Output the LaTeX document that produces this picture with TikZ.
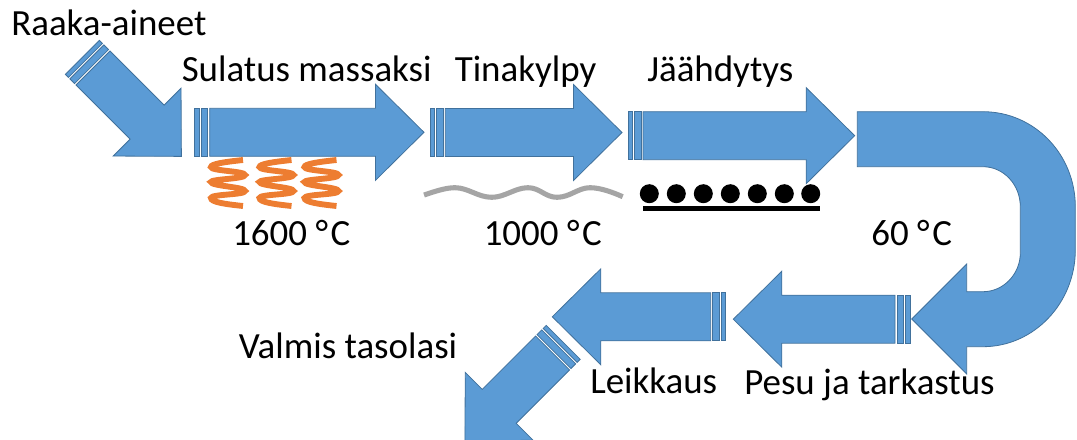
\documentclass[tikz,border=0pt]{standalone}
\usepackage{fontspec}
\setmainfont{Carlito}
\definecolor{FlowBlue}{RGB}{91, 155, 213}
\definecolor{FlowEdge}{RGB}{65, 113, 156}
\definecolor{CoilOrange}{RGB}{237, 125, 49}
\definecolor{BathGray}{RGB}{165, 165, 165}
\tikzset{
    flow/.style={
        fill=FlowBlue,
        draw=FlowEdge,
        line width=0.6pt,
        line join=miter
    },
    % Striped arrow, tail at the origin, pointing along x; the value is its length
    flowarrow/.pic={
        \draw[flow] (-15,-24) rectangle (-10.7,24);
        \draw[flow] (-8.7,-24) rectangle (-2,24);
        \draw[flow] (0,-24) -- ({#1-48.5},-24) -- ({#1-48.5},-48) -- (#1,0)
            -- ({#1-48.5},48) -- ({#1-48.5},24) -- (0,24) -- cycle;
    },
    coil/.pic={
        \draw[draw=CoilOrange, line width=4.4pt]
            (41,10) .. controls (22,12) and (9,14) .. (9,17)
            .. controls (9,21) and (43,21) .. (43,25)
            .. controls (43,29) and (9,29) .. (9,32)
            .. controls (9,36) and (43,37) .. (43,41)
            .. controls (43,45) and (9,44) .. (9,48)
            .. controls (9,52) and (22,54) .. (41,56);
    },
    label_text/.style={
        font=\fontsize{27.7pt}{32pt}\selectfont,
        text=black,
        inner sep=0pt,
        anchor=base west
    }
}
\newcommand{\degC}{°\kern2pt C}
\begin{document}
\begin{tikzpicture}[x=0.75pt, y=-0.75pt]
    \useasboundingbox (0,0) rectangle (1077,439);
    \clip (0,0) rectangle (1077,439);

    % --- Arrows ---
    \pic[rotate=-45] at (93,68) {flowarrow=125};
    \pic at (209.7,132.3) {flowarrow=214.3};
    \pic at (445.3,132.5) {flowarrow=176.7};
    \pic at (643,135.7) {flowarrow=211.7};

    % U-turn
    \draw[flow] (857.3,111.7) -- (983,111.7)
        .. controls (1034,111.7) and (1075.3,154) .. (1075.3,206.7) -- (1075.3,250)
        .. controls (1075.3,303) and (1034,346.7) .. (983,346.7)
        -- (966.7,346.7) -- (966.7,374) -- (911.7,319) -- (966.7,264) -- (966.7,291.7)
        -- (983,291.7)
        .. controls (1003.5,291.7) and (1020.3,274) .. (1020.3,253) -- (1020.3,206.7)
        .. controls (1020.3,184.5) and (1003.5,166.7) .. (983,166.7)
        -- (857.3,166.7) -- cycle;

    \pic[rotate=180] at (895,319.2) {flowarrow=161.7};
    \pic[rotate=180] at (710.7,316.8) {flowarrow=158.4};
    \pic[rotate=-135] at (552.6,353) {flowarrow=124};

    % --- Heating coils ---
    \pic at (202,150) {coil};
    \pic at (250.5,150) {coil};
    \pic at (295.5,150) {coil};

    % --- Tin bath ---
    \draw[draw=BathGray, line width=3.8pt]
        (424,195) .. controls (436,191) and (446,187.7) .. (455,187.7)
        .. controls (468,187.7) and (478,197.3) .. (491.7,197.3)
        .. controls (505,197.3) and (515,187.7) .. (528,187.7)
        .. controls (540,187.7) and (545,197.3) .. (557,197.3)
        .. controls (570,197.3) and (578,187.7) .. (590,187.7)
        .. controls (600,187.7) and (612,192) .. (622.7,196.7);

    % --- Cooling rollers ---
    \foreach \rollx in {649.3, 676.3, 703.3, 730.3, 757.3, 784.3, 810.7} {
        \fill[black] (\rollx,193.7) circle (9.5);
    }
    \fill[black] (643,205.7) rectangle (819.7,211);

    % --- Labels ---
    \node[label_text] (raw) at (11,36) {Raaka-aineet};
    \node[label_text] (melt) at (181.5,81) {Sulatus massaksi};
    \node[label_text] (tin) at (454.5,81) {Tinakylpy};
    \node[label_text] (cool) at (647,81) {Jäähdytys};
    \node[label_text] (t_melt) at (232,245) {1600 \degC};
    \node[label_text] (t_tin) at (483.5,245) {1000 \degC};
    \node[label_text] (t_cool) at (871,245) {60 \degC};
    \node[label_text] (done) at (238.5,358) {Valmis tasolasi};
    \node[label_text] (cut) at (590,393) {Leikkaus};
    \node[label_text] (wash) at (744,394.5) {Pesu ja tarkastus};
\end{tikzpicture}
\end{document}
